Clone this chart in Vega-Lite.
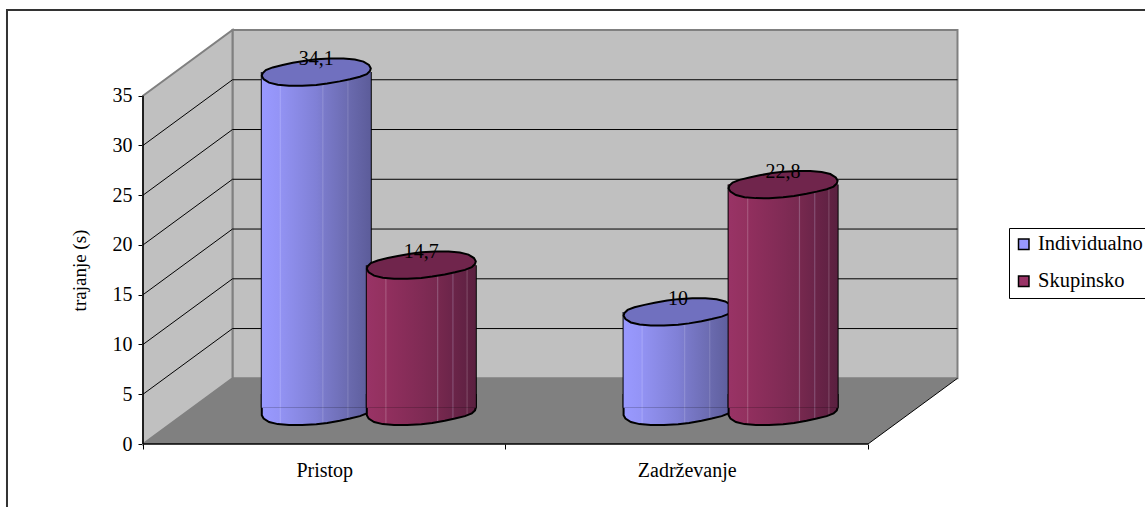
{"$schema":"https://vega.github.io/schema/vega-lite/v6.json","width":815,"height":414,"autosize":{"type":"none"},"padding":{"left":143,"top":30,"right":187,"bottom":63},"background":"white","config":{"view":{"stroke":null},"font":"Liberation Serif"},"datasets":{"one":[{"part":"frame"}],"leftWall":[{"depth":0,"upper":35,"lower":0},{"depth":0.2469,"upper":41.6,"lower":6.6}],"floor":[{"depth":0,"upper":0,"lower":0},{"depth":0.2469,"upper":6.6,"lower":0},{"depth":2,"upper":6.6,"lower":0},{"depth":2.2469,"upper":6.6,"lower":6.6}],"grid":[{"tick":5,"back":11.6},{"tick":10,"back":16.6},{"tick":15,"back":21.6},{"tick":20,"back":26.6},{"tick":25,"back":31.6},{"tick":30,"back":36.6}],"rows":[{"group":"Pristop","series":"Individualno","value":34.1,"label":"34,1"},{"group":"Pristop","series":"Skupinsko","value":14.7,"label":"14,7"},{"group":"Zadržanje","series":"Individualno","value":10,"label":"10"},{"group":"Zadržanje","series":"Skupinsko","value":22.8,"label":"22,8"}]},"resolve":{"scale":{"x":"independent","y":"independent"},"axis":{"x":"independent","y":"independent"}},"layer":[{"layer":[{"data":{"name":"one"},"mark":{"type":"rect","filled":false,"stroke":"#333333","strokeWidth":2},"encoding":{"x":{"datum":-0.3752,"type":"quantitative","scale":{"domain":[0,2.2483]},"axis":{"values":[0,0.5,1,1.5,2],"title":null,"domain":false,"grid":false,"tickSize":5,"tickColor":"black","tickOpacity":{"expr":"datum.value==0.5||datum.value==1.5?0:1"},"labelExpr":"datum.value==0.5?'Pristop':datum.value==1.5?'Zadrževanje':''","labelFont":"Liberation Serif","labelFontSize":20,"labelColor":"black","labelPadding":11,"labelOverlap":false,"labelFlush":false,"labelBound":false}},"x2":{"datum":3.2},"y":{"datum":-7,"type":"quantitative","scale":{"domain":[0,41.6]},"axis":{"values":[0,5,10,15,20,25,30,35],"title":"trajanje (s)","domain":false,"grid":false,"tickSize":5,"tickColor":"black","labelFont":"Liberation Serif","labelFontSize":20,"labelColor":"black","labelPadding":6,"titleFont":"Liberation Serif","titleFontSize":19,"titleFontWeight":"normal","titleColor":"black","titleX":-54,"titleY":240}},"y2":{"datum":43.6}}},{"data":{"name":"one"},"mark":{"type":"rect","fill":"#C0C0C0","stroke":"#808080","strokeWidth":2},"encoding":{"x":{"datum":0.2469,"type":"quantitative","scale":{"domain":[0,2.2483]}},"x2":{"datum":2.2469},"y":{"datum":6.6,"type":"quantitative","scale":{"domain":[0,41.6]}},"y2":{"datum":41.6}}},{"data":{"name":"leftWall"},"mark":{"type":"area","fill":"#C0C0C0","stroke":"#808080","strokeWidth":2},"encoding":{"x":{"field":"depth","type":"quantitative","scale":{"domain":[0,2.2483]}},"y":{"field":"upper","type":"quantitative","scale":{"domain":[0,41.6]}},"y2":{"field":"lower"}}},{"data":{"name":"grid"},"mark":{"type":"rule","color":"black","strokeWidth":1},"encoding":{"x":{"datum":0.2469,"type":"quantitative","scale":{"domain":[0,2.2483]}},"x2":{"datum":2.2469},"y":{"field":"back","type":"quantitative","scale":{"domain":[0,41.6]}}}},{"data":{"name":"grid"},"mark":{"type":"rule","color":"black","strokeWidth":1},"encoding":{"x":{"datum":0,"type":"quantitative","scale":{"domain":[0,2.2483]}},"x2":{"datum":0.2469},"y":{"field":"tick","type":"quantitative","scale":{"domain":[0,41.6]}},"y2":{"field":"back"}}},{"data":{"name":"floor"},"mark":{"type":"area","fill":"#808080"},"encoding":{"x":{"field":"depth","type":"quantitative","scale":{"domain":[0,2.2483]}},"y":{"field":"upper","type":"quantitative","scale":{"domain":[0,41.6]}},"y2":{"field":"lower"}}},{"data":{"name":"one"},"mark":{"type":"rule","color":"black","strokeWidth":1.5},"encoding":{"x":{"datum":0,"type":"quantitative","scale":{"domain":[0,2.2483]}},"y":{"datum":0,"type":"quantitative","scale":{"domain":[0,41.6]}},"y2":{"datum":35}}},{"data":{"name":"one"},"mark":{"type":"rule","color":"black","strokeWidth":1.5},"encoding":{"x":{"datum":0,"type":"quantitative","scale":{"domain":[0,2.2483]}},"x2":{"datum":2},"y":{"datum":0,"type":"quantitative","scale":{"domain":[0,41.6]}}}},{"data":{"name":"one"},"mark":{"type":"rule","color":"black","strokeWidth":1},"encoding":{"x":{"datum":2,"type":"quantitative","scale":{"domain":[0,2.2483]}},"x2":{"datum":2.2469},"y":{"datum":0,"type":"quantitative","scale":{"domain":[0,41.6]}},"y2":{"datum":6.6}}}]},{"data":{"name":"rows"},"encoding":{"x":{"field":"group","type":"nominal","sort":null,"scale":{"range":[44.9,768.5],"paddingInner":0,"paddingOuter":0},"axis":null},"xOffset":{"field":"series","type":"nominal","scale":{"domain":["Individualno","Skupinsko"],"paddingInner":0,"paddingOuter":0.7226}}},"layer":[{"mark":{"type":"bar","width":109},"encoding":{"y":{"field":"value","type":"quantitative","stack":null,"scale":{"domain":[-3.27,38.33],"nice":false},"axis":null},"y2":{"datum":0.38},"color":{"field":"series","type":"nominal","scale":{"domain":["Individualno","Skupinsko"],"range":["#9999FF","#993366"]},"legend":{"title":null,"orient":"none","legendX":866,"legendY":198,"padding":6,"strokeColor":"black","symbolType":"square","symbolSize":110,"symbolStrokeColor":"black","symbolStrokeWidth":1.5,"symbolOpacity":1,"symbolOffset":-1.5,"labelFont":"Liberation Serif","labelFontSize":20.5,"labelColor":"black","labelOffset":4,"labelLimit":300,"rowPadding":16}}}},{"transform":[{"filter":"datum.series=='Individualno'"}],"mark":{"type":"point","filled":false,"strokeWidth":2,"stroke":"black","opacity":1,"fillOpacity":1,"fill":{"x1":0,"y1":0,"x2":1,"y2":0,"gradient":"linear","stops":[{"offset":0,"color":"#9999FF"},{"offset":0.16,"color":"#9494F6"},{"offset":0.17,"color":"#A6A6F8"},{"offset":0.18,"color":"#9292F2"},{"offset":0.5,"color":"#8080D6"},{"offset":0.55,"color":"#7C7CCE"},{"offset":0.56,"color":"#9090D4"},{"offset":0.57,"color":"#7A7ACA"},{"offset":0.78,"color":"#6C6CB2"},{"offset":0.79,"color":"#8080BC"},{"offset":0.8,"color":"#6A6AAE"},{"offset":1,"color":"#5C5C9A"}]},"shape":"M1,-0.07L0.985,-0.02L0.926,0.037L0.8,0.086L0.617,0.13L0.43,0.17L0.2,0.21L0,0.235L-0.259,0.25L-0.5,0.249L-0.707,0.232L-0.866,0.193L-0.966,0.13L-1,0.07L-1,-0.3L1,-0.3Z","size":11881},"encoding":{"y":{"datum":0,"type":"quantitative","scale":{"domain":[-3.27,38.33],"nice":false},"axis":null}}},{"transform":[{"filter":"datum.series=='Individualno'"}],"mark":{"type":"bar","width":111,"fill":"black"},"encoding":{"y":{"field":"value","type":"quantitative","stack":null,"scale":{"domain":[-3.27,38.33],"nice":false},"axis":null},"y2":{"datum":0.38}}},{"transform":[{"filter":"datum.series=='Individualno'"}],"mark":{"type":"bar","width":109,"fill":{"x1":0,"y1":0,"x2":1,"y2":0,"gradient":"linear","stops":[{"offset":0,"color":"#9999FF"},{"offset":0.16,"color":"#9494F6"},{"offset":0.17,"color":"#A6A6F8"},{"offset":0.18,"color":"#9292F2"},{"offset":0.5,"color":"#8080D6"},{"offset":0.55,"color":"#7C7CCE"},{"offset":0.56,"color":"#9090D4"},{"offset":0.57,"color":"#7A7ACA"},{"offset":0.78,"color":"#6C6CB2"},{"offset":0.79,"color":"#8080BC"},{"offset":0.8,"color":"#6A6AAE"},{"offset":1,"color":"#5C5C9A"}]}},"encoding":{"y":{"field":"value","type":"quantitative","stack":null,"scale":{"domain":[-3.27,38.33],"nice":false},"axis":null},"y2":{"datum":0.38}}},{"transform":[{"filter":"datum.series=='Individualno'"}],"mark":{"type":"point","filled":true,"fill":"#7070BF","fillOpacity":1,"opacity":1,"stroke":"black","strokeWidth":2,"shape":"M-1,0.07L-0.985,0.02L-0.926,-0.037L-0.8,-0.086L-0.617,-0.13L-0.43,-0.17L-0.2,-0.21L0,-0.235L0.259,-0.25L0.5,-0.249L0.707,-0.232L0.866,-0.193L0.966,-0.13L1,-0.07L0.985,-0.02L0.926,0.037L0.8,0.086L0.617,0.13L0.43,0.17L0.2,0.21L0,0.235L-0.259,0.25L-0.5,0.249L-0.707,0.232L-0.866,0.193L-0.966,0.13Z","size":11881},"encoding":{"y":{"field":"value","type":"quantitative","scale":{"domain":[-3.27,38.33],"nice":false},"axis":null}}},{"transform":[{"filter":"datum.series=='Skupinsko'"}],"mark":{"type":"point","filled":false,"strokeWidth":2,"stroke":"black","opacity":1,"fillOpacity":1,"fill":{"x1":0,"y1":0,"x2":1,"y2":0,"gradient":"linear","stops":[{"offset":0,"color":"#993366"},{"offset":0.165,"color":"#93315F"},{"offset":0.175,"color":"#A85A80"},{"offset":0.185,"color":"#912F5E"},{"offset":0.5,"color":"#802B55"},{"offset":0.64,"color":"#782950"},{"offset":0.65,"color":"#91587A"},{"offset":0.66,"color":"#76284E"},{"offset":0.78,"color":"#6C254A"},{"offset":0.79,"color":"#865276"},{"offset":0.8,"color":"#6A2448"},{"offset":0.91,"color":"#622244"},{"offset":0.92,"color":"#7E4A66"},{"offset":0.93,"color":"#602142"},{"offset":1,"color":"#5A2040"}]},"shape":"M1,-0.07L0.985,-0.02L0.926,0.037L0.8,0.086L0.617,0.13L0.43,0.17L0.2,0.21L0,0.235L-0.259,0.25L-0.5,0.249L-0.707,0.232L-0.866,0.193L-0.966,0.13L-1,0.07L-1,-0.3L1,-0.3Z","size":11881},"encoding":{"y":{"datum":0,"type":"quantitative","scale":{"domain":[-3.27,38.33],"nice":false},"axis":null}}},{"transform":[{"filter":"datum.series=='Skupinsko'"}],"mark":{"type":"bar","width":111,"fill":"black"},"encoding":{"y":{"field":"value","type":"quantitative","stack":null,"scale":{"domain":[-3.27,38.33],"nice":false},"axis":null},"y2":{"datum":0.38}}},{"transform":[{"filter":"datum.series=='Skupinsko'"}],"mark":{"type":"bar","width":109,"fill":{"x1":0,"y1":0,"x2":1,"y2":0,"gradient":"linear","stops":[{"offset":0,"color":"#993366"},{"offset":0.165,"color":"#93315F"},{"offset":0.175,"color":"#A85A80"},{"offset":0.185,"color":"#912F5E"},{"offset":0.5,"color":"#802B55"},{"offset":0.64,"color":"#782950"},{"offset":0.65,"color":"#91587A"},{"offset":0.66,"color":"#76284E"},{"offset":0.78,"color":"#6C254A"},{"offset":0.79,"color":"#865276"},{"offset":0.8,"color":"#6A2448"},{"offset":0.91,"color":"#622244"},{"offset":0.92,"color":"#7E4A66"},{"offset":0.93,"color":"#602142"},{"offset":1,"color":"#5A2040"}]}},"encoding":{"y":{"field":"value","type":"quantitative","stack":null,"scale":{"domain":[-3.27,38.33],"nice":false},"axis":null},"y2":{"datum":0.38}}},{"transform":[{"filter":"datum.series=='Skupinsko'"}],"mark":{"type":"point","filled":true,"fill":"#70254C","fillOpacity":1,"opacity":1,"stroke":"black","strokeWidth":2,"shape":"M-1,0.07L-0.985,0.02L-0.926,-0.037L-0.8,-0.086L-0.617,-0.13L-0.43,-0.17L-0.2,-0.21L0,-0.235L0.259,-0.25L0.5,-0.249L0.707,-0.232L0.866,-0.193L0.966,-0.13L1,-0.07L0.985,-0.02L0.926,0.037L0.8,0.086L0.617,0.13L0.43,0.17L0.2,0.21L0,0.235L-0.259,0.25L-0.5,0.249L-0.707,0.232L-0.866,0.193L-0.966,0.13Z","size":11881},"encoding":{"y":{"field":"value","type":"quantitative","scale":{"domain":[-3.27,38.33],"nice":false},"axis":null}}},{"mark":{"type":"text","font":"Liberation Serif","fontSize":20,"color":"black","dy":-13,"baseline":"middle"},"encoding":{"y":{"field":"value","type":"quantitative","scale":{"domain":[-3.27,38.33],"nice":false},"axis":null},"text":{"field":"label"}}}]}]}
